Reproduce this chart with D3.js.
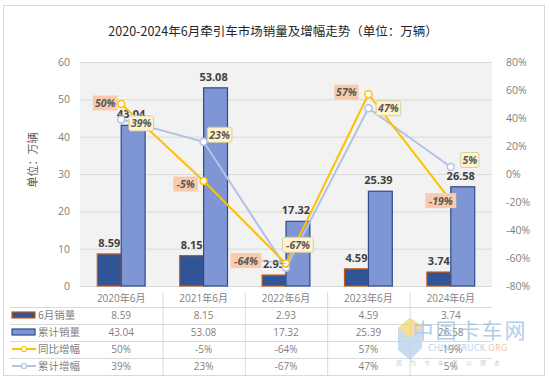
<!DOCTYPE html>
<html lang="zh">
<head>
<meta charset="utf-8" />
<title>牵引车市场销量及增幅走势</title>
<script src="https://d3js.org/d3.v7.min.js"></script>
<style>
    body { margin: 0; background: #fff; }
    svg text { font-family: "Open Sans", "Noto Sans CJK SC", sans-serif; }
</style>
</head>
<body>
<script>
// chart data
const categories = ["2020年6月", "2021年6月", "2022年6月", "2023年6月", "2024年6月"];
const monthSales = [8.59, 8.15, 2.93, 4.59, 3.74];      // 6月销量
const cumSales   = [43.04, 53.08, 17.32, 25.39, 26.58]; // 累计销量
const yoyGrowth  = [50, -5, -64, 57, -19];              // 同比增幅 %
const cumGrowth  = [39, 23, -67, 47, 5];                // 累计增幅 %
const leftTicks  = [0, 10, 20, 30, 40, 50, 60];
const rightTicks = [-80, -60, -40, -20, 0, 20, 40, 60, 80];

// label box placement (offset of box centre from point)
const yoyOffsets = [[-16, -1], [-18, 3], [-40, -3], [-22, -2], [-10, 0]];
const cumOffsets = [[20, 4], [16, -7], [12, -23], [20, 0], [19, -7]];

const W = 549, H = 384;
const plot = {left: 80, right: 492, top: 62, bottom: 286};

const svg = d3.select("body").append("svg")
    .attr("width", W).attr("height", H);

// outer frame
svg.append("rect").attr("x", 3.5).attr("y", 5.5).attr("width", 541).attr("height", 370)
    .attr("fill", "#fff").attr("stroke", "#d9d9d9");

svg.append("text").attr("x", 273).attr("y", 36).attr("text-anchor", "middle")
    .attr("font-size", 12.5).attr("fill", "#262626")
    .style("font-family", "'Noto Sans CJK SC', sans-serif")
    .text("2020-2024年6月牵引车市场销量及增幅走势（单位：万辆）");

const x = d3.scaleBand().domain(categories).range([plot.left, plot.right]).padding(0);
const y = d3.scaleLinear().domain([0, 60]).range([plot.bottom, plot.top]);
const y2 = d3.scaleLinear().domain([-80, 80]).range([plot.bottom, plot.top]);
const cx = c => x(c) + x.bandwidth() / 2;
const bw = x.bandwidth() * 0.29;

// plot background + grid
svg.append("rect").attr("x", plot.left).attr("y", plot.top)
    .attr("width", plot.right - plot.left).attr("height", plot.bottom - plot.top)
    .attr("fill", "#f2f2f2");
svg.append("g").selectAll("line").data(leftTicks).join("line")
    .attr("x1", plot.left).attr("x2", plot.right)
    .attr("y1", d => y(d) + 0.5).attr("y2", d => y(d) + 0.5)
    .attr("stroke", "#d9d9d9").attr("stroke-width", 1);

// axes
const yAxis = d3.axisLeft(y).tickValues(leftTicks).tickSize(0).tickPadding(10);
svg.append("g").attr("transform", `translate(${plot.left},0)`).call(yAxis)
    .call(g => g.select(".domain").remove())
    .selectAll("text").attr("font-size", 10.5).attr("fill", "#7f7f7f")
    .style("font-family", "'Open Sans', sans-serif");
const y2Axis = d3.axisRight(y2).tickValues(rightTicks).tickSize(0).tickPadding(14)
    .tickFormat(d => d + "%");
svg.append("g").attr("transform", `translate(${plot.right},0)`).call(y2Axis)
    .call(g => g.select(".domain").remove())
    .selectAll("text").attr("font-size", 10.5).attr("fill", "#7f7f7f")
    .style("font-family", "'Open Sans', sans-serif");

svg.append("text").attr("transform", "translate(37,160) rotate(-90)")
    .attr("text-anchor", "middle").attr("font-size", 11).attr("fill", "#595959")
    .style("font-family", "'Noto Sans CJK SC', sans-serif")
    .text("单位：万辆");

// bars
svg.append("g").selectAll("rect").data(monthSales).join("rect")
    .attr("x", (d, i) => cx(categories[i]) - bw)
    .attr("y", d => y(d)).attr("width", bw).attr("height", d => y(0) - y(d))
    .attr("fill", "#2f5597").attr("stroke", "#c55a11").attr("stroke-width", 1.2);
svg.append("g").selectAll("rect").data(cumSales).join("rect")
    .attr("x", (d, i) => cx(categories[i]))
    .attr("y", d => y(d)).attr("width", bw).attr("height", d => y(0) - y(d))
    .attr("fill", "#7f96d4").attr("stroke", "#2f4a8a").attr("stroke-width", 1.2);

const barLabel = (data, shift) => svg.append("g").selectAll("text").data(data).join("text")
    .attr("x", (d, i) => cx(categories[i]) + shift)
    .attr("y", d => y(d) - 7)
    .attr("text-anchor", "middle").attr("font-size", 11).attr("font-weight", "bold")
    .attr("fill", "#404040").text(d => d.toFixed(2));
barLabel(monthSales, -bw / 2);
barLabel(cumSales, bw / 2 - 2);

// lines
const line = d3.line().x((d, i) => cx(categories[i])).y(d => y2(d));
svg.append("path").datum(cumGrowth).attr("d", line)
    .attr("fill", "none").attr("stroke", "#b4c0e4").attr("stroke-width", 2);
svg.append("path").datum(yoyGrowth).attr("d", line)
    .attr("fill", "none").attr("stroke", "#ffc000").attr("stroke-width", 2);

function pointLabels(data, offsets, fill, stroke) {
    const g = svg.append("g");
    data.forEach((d, i) => {
        const px = cx(categories[i]), py = y2(d);
        const bx = px + offsets[i][0], by = py + offsets[i][1];
        const txt = d + "%";
        const w = txt.length * 6.2 + 6, h = 15;
        if (Math.abs(offsets[i][0]) > 25 || Math.abs(offsets[i][1]) > 12) {
            g.append("line").attr("x1", px).attr("y1", py)
                .attr("x2", bx + (offsets[i][0] < 0 ? w / 2 : 0))
                .attr("y2", by + (offsets[i][1] < -12 ? h / 2 : 0))
                .attr("stroke", "#a6a6a6").attr("stroke-width", 0.8);
        }
        g.append("rect").attr("x", bx - w / 2).attr("y", by - h / 2)
            .attr("width", w).attr("height", h).attr("rx", stroke ? 2 : 0)
            .attr("fill", fill).attr("stroke", stroke || "none");
        g.append("text").attr("x", bx).attr("y", by + 4)
            .attr("text-anchor", "middle").attr("font-size", 10.5)
            .attr("font-weight", "bold").attr("font-style", "italic")
            .attr("fill", "#595959").text(txt);
    });
}

svg.append("g").selectAll("circle").data(cumGrowth).join("circle")
    .attr("cx", (d, i) => cx(categories[i])).attr("cy", d => y2(d)).attr("r", 3.5)
    .attr("fill", "#fff").attr("stroke", "#b4c0e4").attr("stroke-width", 1.5);
svg.append("g").selectAll("circle").data(yoyGrowth).join("circle")
    .attr("cx", (d, i) => cx(categories[i])).attr("cy", d => y2(d)).attr("r", 3.5)
    .attr("fill", "#fff").attr("stroke", "#ffc000").attr("stroke-width", 1.5);

pointLabels(yoyGrowth, yoyOffsets, "#f8cbad", null);
pointLabels(cumGrowth, cumOffsets, "#fff2cc", "#d6cfa8");

// data table
const rowY = [298, 315, 332, 349, 366];
const tbl = svg.append("g");
[307, 324, 341, 358].forEach(ly => tbl.append("line")
    .attr("x1", 10).attr("x2", plot.right).attr("y1", ly + 0.5).attr("y2", ly + 0.5)
    .attr("stroke", "#d9d9d9"));
categories.slice(1).forEach(c => tbl.append("line")
    .attr("x1", x(c) + 0.5).attr("x2", x(c) + 0.5).attr("y1", 292).attr("y2", 376)
    .attr("stroke", "#d9d9d9"));

tbl.selectAll("text.cat").data(categories).join("text").attr("class", "cat")
    .attr("x", d => cx(d)).attr("y", rowY[0] + 4).attr("text-anchor", "middle")
    .attr("font-size", 10).attr("fill", "#7f7f7f").text(d => d);

const rows = [
    {name: "6月销量", values: monthSales.map(d => d.toFixed(2)), type: "bar", fill: "#2f5597", stroke: "#c55a11"},
    {name: "累计销量", values: cumSales.map(d => d.toFixed(2)), type: "bar", fill: "#7f96d4", stroke: "#2f4a8a"},
    {name: "同比增幅", values: yoyGrowth.map(d => d + "%"), type: "line", stroke: "#ffc000"},
    {name: "累计增幅", values: cumGrowth.map(d => d + "%"), type: "line", stroke: "#b4c0e4"}
];
rows.forEach((r, ri) => {
    const ry = rowY[ri + 1];
    if (r.type === "bar") {
        tbl.append("rect").attr("x", 12).attr("y", ry - 3).attr("width", 23).attr("height", 6)
            .attr("fill", r.fill).attr("stroke", r.stroke).attr("stroke-width", 1.2);
    } else {
        tbl.append("line").attr("x1", 12).attr("x2", 36).attr("y1", ry).attr("y2", ry)
            .attr("stroke", r.stroke).attr("stroke-width", 2);
        tbl.append("circle").attr("cx", 24).attr("cy", ry).attr("r", 2.5)
            .attr("fill", "#fff").attr("stroke", r.stroke).attr("stroke-width", 1.2);
    }
    tbl.append("text").attr("x", 38).attr("y", ry + 4).attr("font-size", 10.5)
        .attr("fill", "#7f7f7f").style("font-family", "'Noto Sans CJK SC', sans-serif")
        .text(r.name);
    tbl.selectAll(null).data(r.values).join("text")
        .attr("x", (d, i) => cx(categories[i])).attr("y", ry + 4)
        .attr("text-anchor", "middle").attr("font-size", 10)
        .attr("fill", "#7f7f7f").text(d => d);
});

// watermark
const wm = svg.append("g").attr("opacity", 0.8);
wm.append("path").attr("d", "M398,328 L410,318 L422,326 L422,348 L410,360 L398,350 Z")
    .attr("fill", "#bcd3ea");
wm.append("path").attr("d", "M398,328 L410,338 L422,326 L410,318 Z").attr("fill", "#f5d77a");
wm.append("text").attr("x", 470).attr("y", 338).attr("text-anchor", "middle")
    .attr("font-size", 21).attr("fill", "#9ec2e6").attr("letter-spacing", 2)
    .style("font-family", "'Noto Sans CJK SC', serif").text("中国卡车网");
wm.append("text").attr("x", 428).attr("y", 351).attr("font-size", 8.5)
    .attr("fill", "#9ec2e6").attr("letter-spacing", 0.5)
    .html("CHINATRUCK<tspan fill='#f4b183'>.ORG</tspan>");
wm.append("text").attr("x", 396).attr("y", 365).attr("font-size", 6)
    .attr("fill", "#b0c8e0").attr("letter-spacing", 8)
    .style("font-family", "'Noto Sans CJK SC', sans-serif").text("因为卡车所以朋友");
</script>
</body>
</html>
